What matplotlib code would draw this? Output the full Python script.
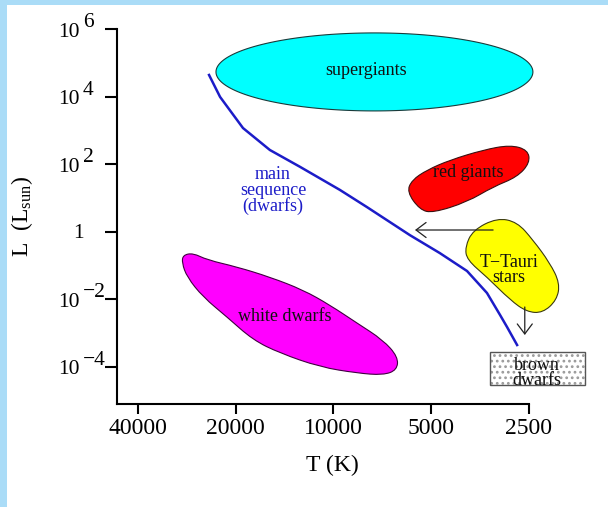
import numpy as np
import matplotlib
matplotlib.use("Agg")
import matplotlib.pyplot as plt
import matplotlib.transforms as mtransforms
from matplotlib.path import Path
from matplotlib.patches import PathPatch, Rectangle, FancyArrowPatch
from matplotlib.ticker import NullLocator, NullFormatter

plt.rcParams['font.family'] = ['Liberation Serif', 'DejaVu Serif']
plt.rcParams['mathtext.fontset'] = 'custom'
plt.rcParams['mathtext.rm'] = 'Liberation Serif'
plt.rcParams['mathtext.it'] = 'Liberation Serif:italic'
plt.rcParams['hatch.linewidth'] = 1.2

# ---------------- data (T in K, log10 L in L_sun) ----------------
xtick_values = [40000, 20000, 10000, 5000, 2500]
xtick_labels = ["40000", "20000", "10000", "5000", "2500"]
ytick_values = [1e6, 1e4, 1e2, 1, 1e-2, 1e-4]
ytick_bases = ["10", "10", "10", "1", "10", "10"]
ytick_exponents = ["6", "4", "2", "", "\u22122", "\u22124"]

ms_T = [24170, 22350, 19000, 15700, 12670, 9560, 7885, 5815, 4705, 3880, 3368, 3070, 2920, 2720]
ms_logL = [4.64, 3.99, 3.07, 2.42, 1.92, 1.24, 0.73, -0.10, -0.63, -1.16, -1.81, -2.46, -2.82, -3.35]

rg_T = [5940, 5420, 4940, 3880, 3225, 2720, 2485, 2520, 2855, 3465, 4385, 5150, 5735]
rg_logL = [1.18, 0.65, 0.56, 0.88, 1.33, 1.62, 2.04, 2.42, 2.57, 2.42, 2.12, 1.83, 1.53]

tt_T = [3135, 3720, 3933, 3880, 3368, 2855, 2540, 2268, 2053, 2009, 2157, 2431, 2720]
tt_logL = [0.41, 0.05, -0.45, -0.83, -1.34, -2.02, -2.37, -2.40, -2.02, -1.52, -0.92, -0.24, 0.29]

wd_T = [29070, 27080, 24510, 19820, 15700, 12405, 10250, 8465, 7040, 6330,
        6375, 7040, 8465, 11005, 14610, 17705, 21280, 25220, 28250, 29280]
wd_logL = [-0.69, -0.63, -0.83, -1.04, -1.34, -1.72, -2.17, -2.70, -3.20, -3.70,
           -4.09, -4.24, -4.18, -4.00, -3.59, -3.20, -2.52, -1.93, -1.34, -0.92]

sg_center_T = 7480
sg_center_logL = 4.73
sg_half_width_dex = 0.488
sg_half_height_dex = 1.154

bd_T = [3300, 1684]
bd_logL = [-3.556, -4.533]

arrow_left_T = [3225, 5610]
arrow_left_logL = [0.053, 0.053]
arrow_down_T = [2576, 2576]
arrow_down_logL = [-2.225, -3.053]

# ---------------- figure ----------------
W, H = 608, 507
fig = plt.figure(figsize=(W / 100, H / 100), dpi=100, facecolor='#aadcf7')
fig.add_artist(Rectangle((7 / W, 0), 1 - 7 / W, 1 - 5 / H, transform=fig.transFigure,
                         facecolor='white', edgecolor='none', zorder=-10))

ax = fig.add_axes([117 / W, (H - 404) / H, (529 - 117) / W, (404 - 29) / H])
ax.set_facecolor('none')
ax.set_xscale('log')
ax.set_yscale('log')
ax.set_xlim(46420, 2500)
ax.set_ylim(10 ** -5.095, 1e6)
for s in ['top', 'right']:
    ax.spines[s].set_visible(False)
for s in ['left', 'bottom']:
    ax.spines[s].set_linewidth(1.5)
    ax.spines[s].set_color('black')

ax.set_xticks(xtick_values)
ax.set_xticklabels(xtick_labels, fontsize=17)
ax.xaxis.set_minor_locator(NullLocator())
ax.tick_params(axis='x', direction='out', length=7, width=1.5, pad=3)
ax.set_yticks(ytick_values)
ax.yaxis.set_major_formatter(NullFormatter())
ax.yaxis.set_minor_locator(NullLocator())
ax.tick_params(axis='y', direction='out', length=9, width=1.5)

# manual y tick labels "10" + full-size exponent
blend = mtransforms.blended_transform_factory(fig.transFigure, ax.transData)
for v, b, e in zip(ytick_values, ytick_bases, ytick_exponents):
    if e:
        tb = blend + mtransforms.ScaledTranslation(0, -0.03, fig.dpi_scale_trans)
        ax.text(80 / W, v, b, transform=tb, ha='right', va='center', fontsize=15.5, clip_on=False)
        te = blend + mtransforms.ScaledTranslation(0, 0.065, fig.dpi_scale_trans)
        ax.text(83 / W, v, e, transform=te, ha='left', va='center', fontsize=15.5, clip_on=False)
    else:
        tb = blend + mtransforms.ScaledTranslation(0, -0.015, fig.dpi_scale_trans)
        ax.text(78 / W, v, b, transform=tb, ha='center', va='center', fontsize=15.5, clip_on=False)

fig.text(332 / W, 1 - 465 / H, 'T (K)', ha='center', va='center', fontsize=17)
fig.text(22 / W, 1 - 216 / H, r'L  (L$_{\mathrm{sun}}$)', rotation=90,
         ha='center', va='center', fontsize=17)


def blob_path(T, logL):
    lx = np.log10(np.asarray(T, float))
    ly = np.asarray(logL, float)
    mx = (lx + np.roll(lx, -1)) / 2
    my = (ly + np.roll(ly, -1)) / 2
    verts = [(mx[-1], my[-1])]
    codes = [Path.MOVETO]
    for i in range(len(lx)):
        verts += [(lx[i], ly[i]), (mx[i], my[i])]
        codes += [Path.CURVE3, Path.CURVE3]
    verts = 10 ** np.array(verts)
    return Path(verts, codes)


edge_kw = dict(linewidth=0.8, clip_on=False)

# supergiants ellipse (in log-log space)
t = np.linspace(0, 2 * np.pi, 200)
sg_x = 10 ** (np.log10(sg_center_T) + sg_half_width_dex * np.cos(t))
sg_y = 10 ** (sg_center_logL + sg_half_height_dex * np.sin(t))
ax.fill(sg_x, sg_y, facecolor='#00ffff', edgecolor='#1a3a3a', linewidth=0.8, clip_on=False, zorder=2)

ax.add_patch(PathPatch(blob_path(rg_T, rg_logL), facecolor='#ff0000', edgecolor='#3a1010', zorder=2, **edge_kw))
ax.add_patch(PathPatch(blob_path(tt_T, tt_logL), facecolor='#ffff00', edgecolor='#3a3a10', zorder=2, **edge_kw))
ax.add_patch(PathPatch(blob_path(wd_T, wd_logL), facecolor='#ff00ff', edgecolor='#400040', zorder=2, **edge_kw))

# brown dwarfs box: dotted fill + dark border
bd_xy = (bd_T[1], 10 ** bd_logL[1])
bd_w = bd_T[0] - bd_T[1]
bd_h = 10 ** bd_logL[0] - 10 ** bd_logL[1]
ax.add_patch(Rectangle(bd_xy, bd_w, bd_h, facecolor='white', edgecolor='#9a9a9a',
                       hatch='...', linewidth=0, clip_on=False, zorder=2))
ax.add_patch(Rectangle(bd_xy, bd_w, bd_h, facecolor='none', edgecolor='#555555',
                       linewidth=1.0, clip_on=False, zorder=2.1))

# main sequence
ax.plot(ms_T, 10 ** np.array(ms_logL), color='#1c1cc8', linewidth=1.8, zorder=3, clip_on=False)

# arrows
for Ts, Ls in [(arrow_left_T, arrow_left_logL), (arrow_down_T, arrow_down_logL)]:
    ax.add_patch(FancyArrowPatch((Ts[0], 10 ** Ls[0]), (Ts[1], 10 ** Ls[1]),
                                 arrowstyle='->,head_length=0.6,head_width=0.45',
                                 mutation_scale=12, color='#222222', linewidth=0.9,
                                 shrinkA=0, shrinkB=0, clip_on=False, zorder=4))

# labels
lab = dict(ha='center', va='center', fontsize=13, color='#111111', zorder=5)
ax.text(7950, 10 ** 4.76, 'supergiants', **lab)
ax.text(3853, 10 ** 1.74, 'red giants', **lab)
ax.text(2880, 10 ** -1.13, 'T\u2212Tauri\nstars', linespacing=0.9, **lab)
ax.text(14100, 10 ** -2.52, 'white dwarfs', **lab)
ax.text(2361, 10 ** -4.17, 'brown\ndwarfs', linespacing=0.85, **lab)
ax.text(15350, 10 ** 1.22, 'main\nsequence\n(dwarfs)', linespacing=0.9,
        ha='center', va='center', fontsize=13, color='#1c1cc8', zorder=5)

fig.savefig('out.png', dpi=100, facecolor=fig.get_facecolor())
